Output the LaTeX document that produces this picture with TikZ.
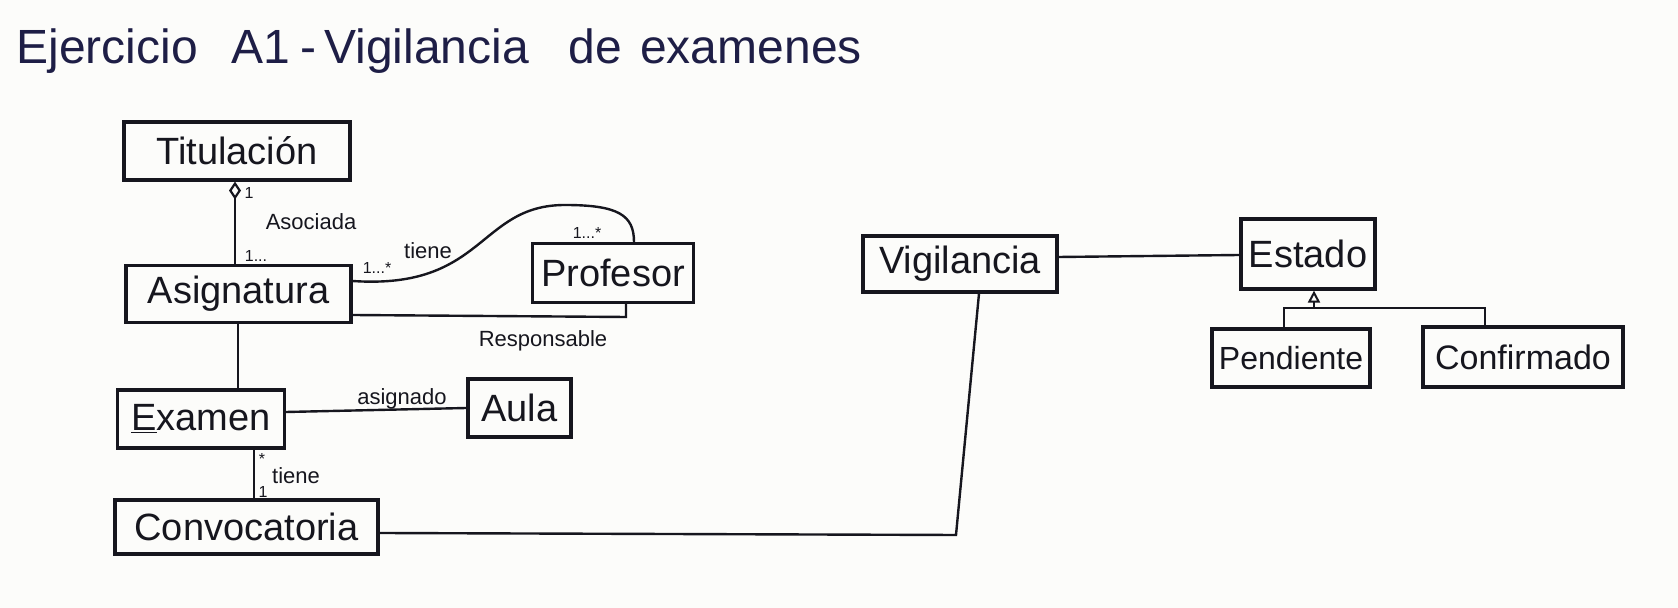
\documentclass[tikz,border=0pt]{standalone}
\usepackage{fontspec}
\setmainfont{Liberation Sans}
\usetikzlibrary{arrows.meta}
\definecolor{ink}{RGB}{22,22,30}
\definecolor{titleink}{RGB}{30,30,70}
\definecolor{paper}{RGB}{252,252,250}
\tikzset{
  box/.style={draw=ink, line width=1.6pt, inner sep=0pt, text=ink, font=\fontsize{19}{22}\selectfont},
  conn/.style={draw=ink, line width=1.2pt},
  lbl/.style={text=ink, inner sep=0pt, font=\fontsize{11}{13}\selectfont},
  mult/.style={text=ink, inner sep=0pt, font=\fontsize{8}{10}\selectfont},
}
\begin{document}
\begin{tikzpicture}[x=0.5pt,y=-0.5pt]
\fill[paper] (0,0) rectangle (1678,608);
\useasboundingbox (0,0) rectangle (1678,608);

% title
\node[anchor=base west, inner sep=0pt, text=titleink, font=\fontsize{24}{28}\selectfont] (title) at (16,64)
  {Ejercicio\hspace{17pt}A1\hspace{5pt}-\hspace{4pt}Vigilancia\hspace{20pt}de\hspace{9pt}examenes};

% classes
\node[box, minimum width=113pt, minimum height=29pt] (tit) at (237,151) {Titulación};
\node[box, minimum width=112.5pt, minimum height=28.5pt] (asig) at (238.5,294) {Asignatura};
\node[box, minimum width=80.5pt, minimum height=29.5pt] (prof) at (613,273) {Profesor};
\node[box, minimum width=83.5pt, minimum height=29pt] (exam) at (201,419) {\underline{E}xamen};
\node[box, minimum width=51.5pt, minimum height=29pt] (aula) at (519.5,408) {Aula};
\node[box, minimum width=131.5pt, minimum height=27pt] (conv) at (246.5,527) {Convocatoria};
\node[box, minimum width=97pt, minimum height=28pt] (vig) at (960,264) {Vigilancia};
\node[box, minimum width=67pt, minimum height=35pt] (est) at (1308,254) {Estado};
\node[box, minimum width=79pt, minimum height=29pt, font=\fontsize{16}{19}\selectfont] (pend) at (1291,358) {Pendiente};
\node[box, minimum width=100pt, minimum height=30pt, font=\fontsize{17}{20}\selectfont] (conf) at (1523,357) {Confirmado};

% Titulacion - Asignatura (aggregation)
\draw[conn, {Diamond[open, length=9pt, width=6pt, line width=1.1pt]}-] (tit.south -| 235,0) -- (asig.north -| 235,0);
\node[mult] (m1) at (249,193) {1};
\node[lbl] (asoc) at (311,222) {Asociada};
\node[mult] (m2) at (256,256) {1...};

% Asignatura - Profesor (tiene)
\draw[conn] (asig.east |- 0,281) .. controls (485,290) and (478,205) .. (565,205)
  .. controls (618,205) and (634,215) .. (prof.north -| 634,0);
\node[mult] (m3) at (377,268) {1...*};
\node[lbl] (tiene1) at (428,251) {tiene};
\node[mult] (m4) at (587,233) {1...*};

% Asignatura - Profesor (Responsable)
\coordinate (rbend) at (626,317);
\draw[conn] (asig.east |- 0,315) -- (rbend) -- (prof.south -| rbend);
\node[lbl] (resp) at (543,341) {Responsable};

% Asignatura - Examen
\draw[conn] (asig.south -| 238,0) -- (exam.north -| 238,0);

% Examen - Aula
\draw[conn] (exam.east |- 0,412) -- (aula.west |- 0,408);
\node[lbl] (asig2) at (402,399) {asignado};

% Examen - Convocatoria
\draw[conn] (exam.south -| 254,0) -- (conv.north -| 254,0);
\node[mult] (m5) at (262,459) {*};
\node[lbl] (tiene2) at (296,476) {tiene};
\node[mult] (m6) at (263,492) {1};

% Convocatoria - Vigilancia
\coordinate (vbend) at (956,535);
\draw[conn] (conv.east |- 0,533) -- (vbend) -- (vig.south -| 979,0);

% Vigilancia - Estado
\draw[conn] (vig.east |- 0,257) -- (est.west |- 0,255);

% Generalization
\coordinate (gl) at (1284,308);
\coordinate (gm) at (1314,308);
\coordinate (gr) at (1485,308);
\draw[conn, -{Triangle[open, length=6pt, width=6pt, line width=1pt]}] (gm) -- (est.south -| gm);
\draw[conn] (pend.north -| gl) -- (gl) -- (gr) -- (conf.north -| gr);
\end{tikzpicture}
\end{document}
